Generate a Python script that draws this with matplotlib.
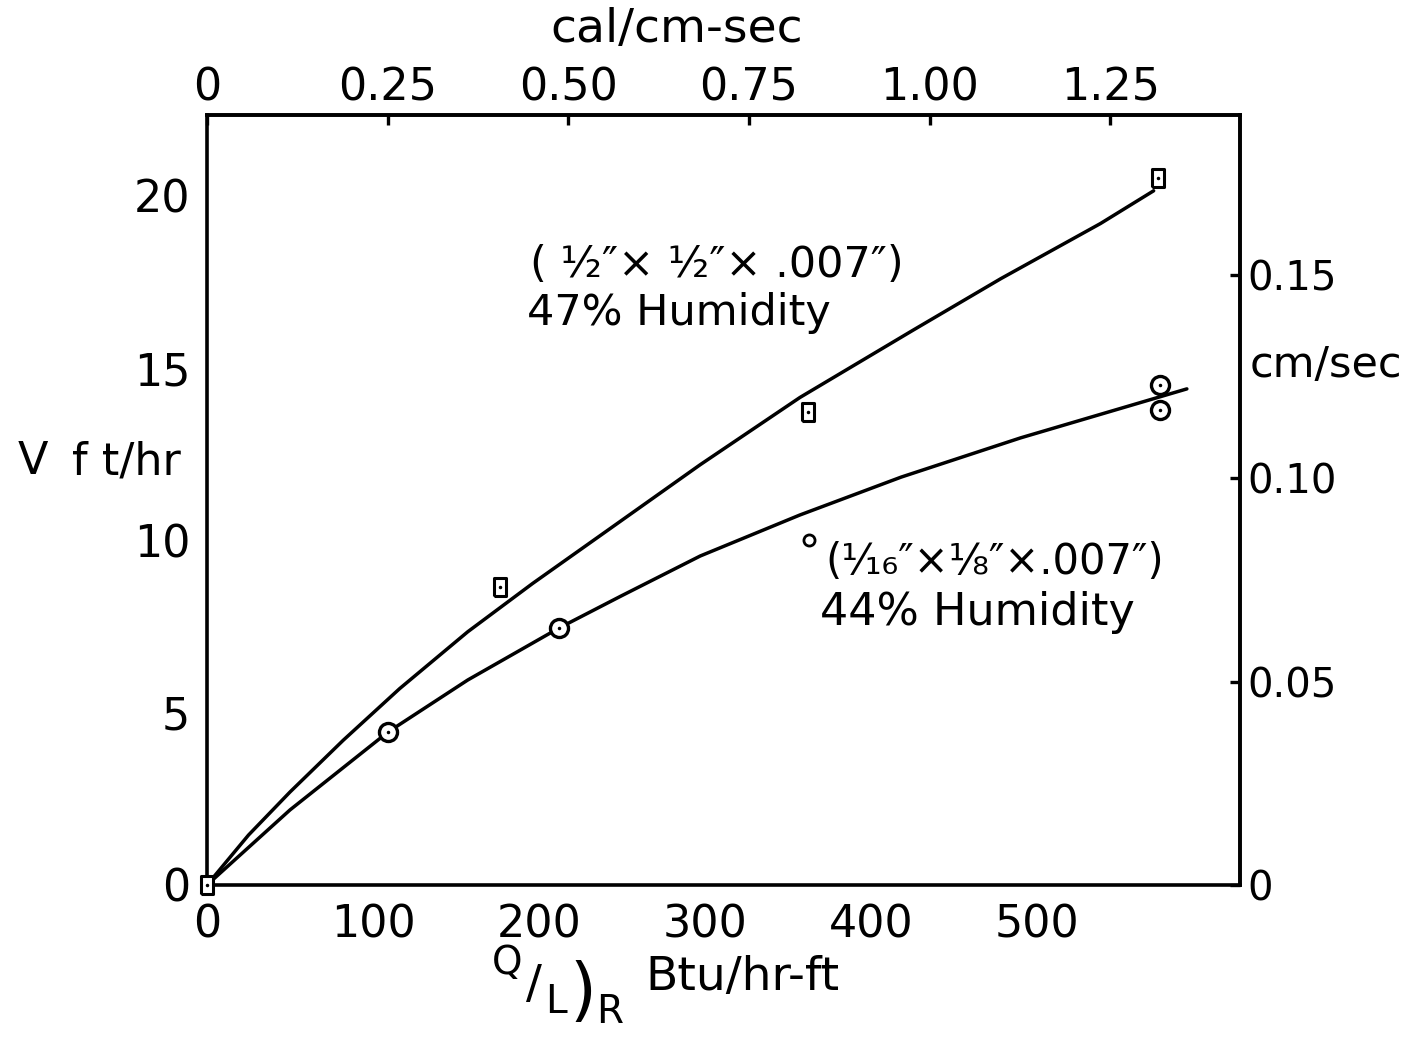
import matplotlib
matplotlib.use("Agg")
import matplotlib.pyplot as plt

# ---- data ----
# upper curve: 1/2" x 1/2" x .007", 47% humidity
curve_a_x = [0, 25, 50, 82, 116, 157, 196, 237, 297, 357, 425, 478, 538, 570]
curve_a_y = [0, 1.45, 2.7, 4.2, 5.7, 7.35, 8.75, 10.15, 12.2, 14.15, 16.1, 17.6, 19.2, 20.15]
pts_a_x = [0, 176.5, 362.0, 572.9]
pts_a_y = [0, 8.65, 13.73, 20.52]

# lower curve: 1/16" x 1/8" x .007", 44% humidity
curve_b_x = [0, 50, 109, 157, 212, 249, 297, 357, 418, 490, 590]
curve_b_y = [0, 2.18, 4.44, 5.95, 7.46, 8.38, 9.55, 10.74, 11.84, 12.98, 14.40]
pts_b_x = [109.0, 212.0, 574.1, 574.1]
pts_b_y = [4.44, 7.46, 14.51, 13.79]

x_ticks = [0, 100, 200, 300, 400, 500]
y_ticks = [0, 5, 10, 15, 20]
top_ticks = [0, 0.25, 0.50, 0.75, 1.00, 1.25]
top_labels = ["0", "0.25", "0.50", "0.75", "1.00", "1.25"]
right_ticks = [0, 0.05, 0.10, 0.15]
right_labels = ["0", "0.05", "0.10", "0.15"]

BTU_PER_CAL = 435.1          # Btu/hr-ft per cal/cm-sec
CMS_PER_FTHR = 30.48 / 3600  # cm/sec per ft/hr

plt.rcParams['font.family'] = ['DejaVu Sans']

W, H = 1419, 1039
fig = plt.figure(figsize=(W / 100, H / 100), dpi=100)
L, R, T, B = 207, 1240, 115, 885
ax = fig.add_axes([L / W, 1 - B / H, (R - L) / W, (B - T) / H])
ax.set_xlim(0, 622)
ax.set_ylim(0, 22.35)

for s in ax.spines.values():
    s.set_linewidth(2.6)

lw = 2.5
ax.plot(curve_a_x, curve_a_y, color='black', lw=lw, solid_capstyle='round', solid_joinstyle='round')
ax.plot(curve_b_x, curve_b_y, color='black', lw=lw, solid_capstyle='round', solid_joinstyle='round')

rect = [(-0.7, -1), (0.7, -1), (0.7, 1), (-0.7, 1), (-0.7, -1)]
ax.plot(pts_a_x, pts_a_y, ls='none', marker=rect, ms=13, mfc='white', mec='black', mew=2.2,
        clip_on=False, zorder=4)
ax.plot(pts_a_x, pts_a_y, ls='none', marker='.', ms=3, color='black', clip_on=False, zorder=5)
ax.plot(pts_b_x, pts_b_y, ls='none', marker='o', ms=13, mfc='white', mec='black', mew=2.4, zorder=4)
ax.plot(pts_b_x, pts_b_y, ls='none', marker='.', ms=3, color='black', zorder=5)

fs = 32
ax.set_xticks(x_ticks)
ax.set_xticklabels([str(v) for v in x_ticks])
ax.set_yticks(y_ticks)
ax.set_yticklabels([str(v) for v in y_ticks])
ax.tick_params(axis='x', length=0, pad=13, labelsize=fs)
ax.tick_params(axis='y', length=0, pad=12, labelsize=fs)

top = ax.secondary_xaxis('top', functions=(lambda x: x / BTU_PER_CAL, lambda c: c * BTU_PER_CAL))
top.set_xticks(top_ticks)
top.set_xticklabels(top_labels)
top.tick_params(direction='in', length=7, width=2.4, pad=4, labelsize=fs)
top.spines['top'].set_linewidth(2.6)

right = ax.secondary_yaxis('right', functions=(lambda y: y * CMS_PER_FTHR, lambda c: c / CMS_PER_FTHR))
right.set_yticks(right_ticks)
right.set_yticklabels(right_labels)
right.tick_params(direction='in', length=7, width=2.4, pad=5, labelsize=29)
right.spines['right'].set_linewidth(2.6)
for lab in right.get_yticklabels():
    lab.set_horizontalalignment('left')

# axis titles
fig.text(18 / W, 1 - 462 / H, "V", fontsize=fs, ha='left', va='center')
fig.text(72 / W, 1 - 462 / H, "f t/hr", fontsize=fs, ha='left', va='center')
fig.text(1250 / W, 1 - 365 / H, "cm/sec", fontsize=31, ha='left', va='center')
fig.text(677 / W, 1 - 30 / H, "cal/cm-sec", fontsize=34, ha='center', va='center')

fig.text(507 / W, 1 - 963 / H, "Q", fontsize=28, ha='center', va='center')
fig.text(534 / W, 1 - 986 / H, "/", fontsize=34, ha='center', va='center')
fig.text(556 / W, 1 - 1002 / H, "L", fontsize=28, ha='center', va='center')
fig.text(583 / W, 1 - 993 / H, ")", fontsize=50, ha='center', va='center')
fig.text(610 / W, 1 - 1012 / H, "R", fontsize=28, ha='center', va='center')
fig.text(645 / W, 1 - 978 / H, "Btu/hr-ft", fontsize=34, ha='left', va='center')

# annotations
fig.text(530 / W, 1 - 265 / H, "( ½″× ½″× .007″)", fontsize=31, ha='left', va='center')
fig.text(527 / W, 1 - 313 / H, "47% Humidity", fontsize=31, ha='left', va='center')
fig.text(825 / W, 1 - 562 / H, "(¹⁄₁₆″×⅛″×.007″)", fontsize=30, ha='left', va='center')
fig.text(820 / W, 1 - 612 / H, "44% Humidity", fontsize=32, ha='left', va='center')
ax.plot([362.5], [10.0], ls='none', marker='o', ms=8, mfc='white', mec='black', mew=2,
        clip_on=False)

fig.savefig("out.png", dpi=100)
